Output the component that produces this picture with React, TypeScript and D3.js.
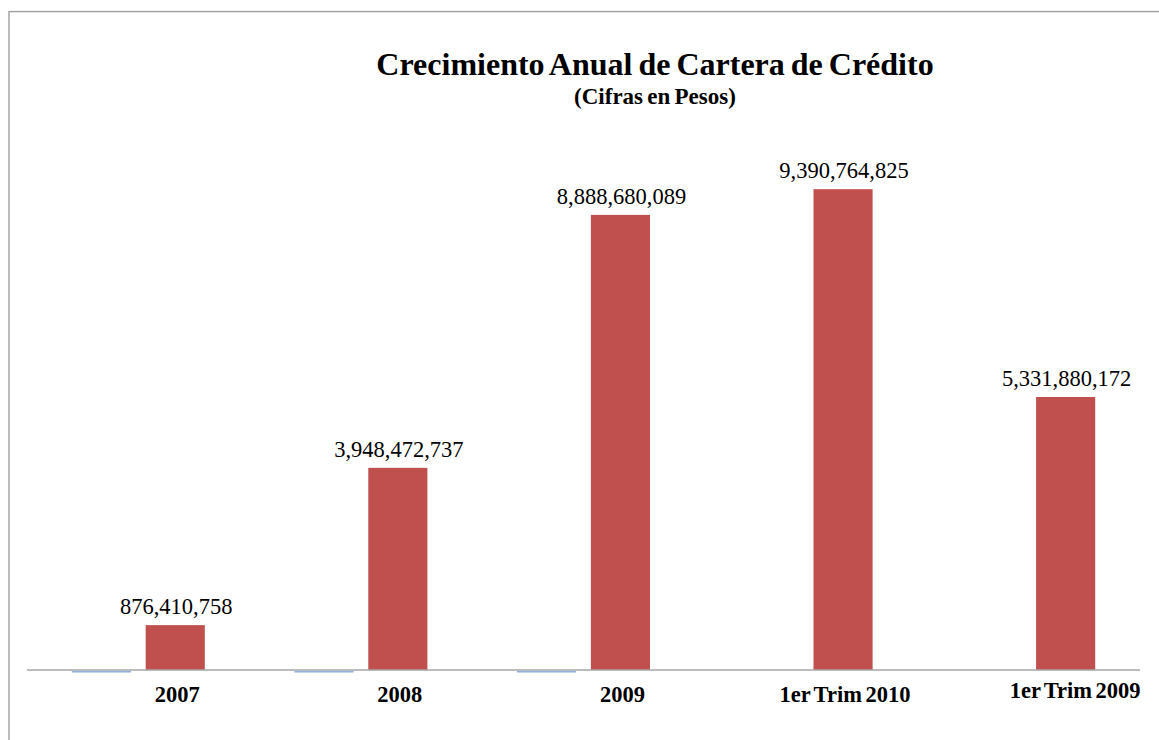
import React from "react";
import * as d3 from "d3";

const categories = ["2007", "2008", "2009", "1er Trim 2010", "1er Trim 2009"];
const seriesNames = ["Serie1", "Serie2"];
const serie1 = [-20000000, -20000000, -20000000, 0, 0];
const serie2 = [876410758, 3948472737, 8888680089, 9390764825, 5331880172];
const yDomain = [0, 10000000000];

const W = 1159;
const H = 740;
const FONT = "'Liberation Serif', 'Times New Roman', Times, serif";
const COLORS = { Serie1: "#8eb0dc", Serie2: "#c0504d" };

export default function App() {
  const x0 = d3.scaleBand<string>().domain(categories).range([27, 1140]).paddingInner(0.4025).paddingOuter(0.20125);
  const x1 = d3.scaleBand<string>().domain(seriesNames).range([0, x0.bandwidth()]).paddingInner(0.2);
  const y = d3.scaleLinear().domain(yDomain).range([670, 158]);
  const fmt = d3.format(",");
  const y0 = y(0);

  const values = { Serie1: serie1, Serie2: serie2 };

  return (
    <svg width={W} height={H} style={{ position: "absolute", left: 0, top: 0, background: "#fff" }}>
      <rect x={0} y={0} width={W} height={H} fill="#fff" />
      <rect x={9} y={11.6} width={1300} height={900} fill="none" stroke="#a0a0a0" strokeWidth={1.4} />
      <text x={655} y={75} textAnchor="middle" fontFamily={FONT} fontWeight="bold" fontSize={32} wordSpacing={-2} fill="#000">
        Crecimiento Anual de Cartera de Crédito
      </text>
      <text x={655} y={104} textAnchor="middle" fontFamily={FONT} fontWeight="bold" fontSize={23} wordSpacing={-1.5} fill="#000">
        (Cifras en Pesos)
      </text>
      {categories.map((c, i) => (
        <g key={c}>
          {seriesNames.map((s) => {
            const v = values[s][i];
            if (v === 0) return null;
            const yv = y(v);
            const top = Math.min(yv, y0);
            const h = Math.abs(y0 - yv);
            const bx = (x0(c) as number) + (x1(s) as number);
            return (
              <rect key={s} x={bx} y={v < 0 ? top + 1 : top} width={x1.bandwidth()} height={v < 0 ? Math.max(h, 1.5) : h} fill={COLORS[s]} />
            );
          })}
        </g>
      ))}
      <line x1={27} x2={1140} y1={y0} y2={y0} stroke="#a6a6a6" strokeWidth={1.3} />
      {categories.map((c, i) => {
        const cx = (x0(c) as number) + (x1("Serie2") as number) + x1.bandwidth() / 2;
        const v = serie2[i];
        return (
          <text key={"v" + c} x={cx + 1} y={y(v) - 11} textAnchor="middle" fontFamily={FONT} fontSize={22.5} fill="#000">
            {fmt(v)}
          </text>
        );
      })}
      {categories.map((c, i) => {
        const cx = (x0(c) as number) + (x1("Serie2") as number) + x1.bandwidth() / 2;
        const last = i === categories.length - 1;
        return (
          <text key={"c" + c} x={cx + (last ? 9.5 : 2)} y={last ? 698 : 702} textAnchor="middle" fontFamily={FONT} fontWeight="bold" fontSize={22.5} wordSpacing={-2} fill="#000">
            {c}
          </text>
        );
      })}
    </svg>
  );
}
